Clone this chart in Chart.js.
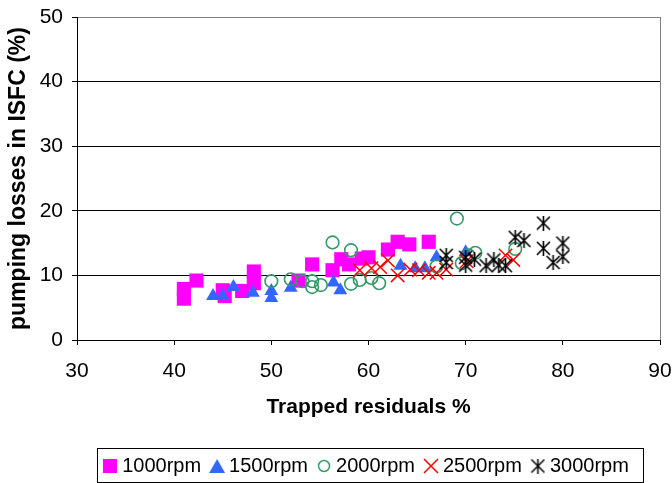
<!DOCTYPE html>
<html><head><meta charset="utf-8">
<script src="https://cdn.jsdelivr.net/npm/chart.js@4.4.0/dist/chart.umd.min.js"></script>
<style>html,body{margin:0;padding:0;background:#fff;}</style>
</head><body>
<canvas id="c" width="672" height="483"></canvas>
<script>
// ---- data ----
const seriesLabels = ['1000rpm', '1500rpm', '2000rpm', '2500rpm', '3000rpm'];
const xAxisTitle = 'Trapped residuals %';
const yAxisTitle = 'pumping losses in ISFC (%)';
const xMin = 30, xMax = 90, xStep = 10;
const yMin = 0, yMax = 50, yStep = 10;

const rpm1000 = [[41,7.9],[41,6.4],[42.3,9.2],[45,7.7],[45.2,6.8],[47,7.6],[48.2,10.6],[48.2,8.8],[52.8,9.2],[54.2,11.7],[56.3,10.8],[57.2,12.5],[58,11.7],[59.3,12.6],[60,12.8],[62,14],[63,15.2],[64.2,14.8],[66.2,15.2]];
const rpm1500 = [[44,6.8],[45,6.8],[46.1,8.2],[48.1,7.3],[50,7.6],[50,6.5],[52,8.1],[56.4,8.9],[57.1,7.7],[63.3,11.5],[64.8,11.1],[65.8,11.1],[67,12.8],[70,13.6]];
const rpm2000 = [[50,9.1],[52,9.4],[53.2,9.1],[54.2,9.1],[54.2,8.2],[55.1,8.5],[56.3,15.1],[58.2,13.9],[58.2,8.7],[59.1,9.3],[60.3,9.6],[61.1,8.8],[67,11.4],[69.1,18.8],[69.6,11.9],[70.3,13.1],[71,13.5],[75.1,14.1]];
const rpm2500 = [[59.1,10.8],[60.3,11.1],[61.2,11.3],[62,12.3],[63,10],[64.3,10.9],[65.2,10.8],[66.2,10.4],[67,10.4],[68,10.9],[70.1,12.2],[74.1,13.1],[74.9,12.4]];
const rpm3000 = [[68,13.1],[68,12],[70,12.8],[70,11.6],[70.9,12.5],[72.1,11.5],[72.9,12.4],[73.4,11.6],[74.1,11.5],[75.1,15.9],[76,15.4],[78,18.1],[78,14.2],[79,12],[80,15],[80,12.9]];

// ---- marker images ----
function mk(w, h, fn) { const c = document.createElement('canvas'); c.width = w; c.height = h; fn(c.getContext('2d'), w, h); return c; }
function asterisk(s, color, lw) {
  return mk(s, s, (g, w, h) => {
    g.strokeStyle = color; g.lineWidth = lw; g.beginPath();
    g.moveTo(1, 1); g.lineTo(w - 1, h - 1);
    g.moveTo(w - 1, 1); g.lineTo(1, h - 1);
    g.moveTo(w / 2, 0); g.lineTo(w / 2, h);
    g.stroke();
  });
}
const plotAsterisk = asterisk(15, '#000', 1.6);
const legendMarkers = [
  mk(14, 14, (g) => { g.fillStyle = '#FF00FF'; g.fillRect(0, 0, 14, 14); }),
  mk(16, 14, (g) => { g.fillStyle = '#3366FF'; g.beginPath(); g.moveTo(8, 0); g.lineTo(16, 14); g.lineTo(0, 14); g.closePath(); g.fill(); }),
  mk(14, 14, (g) => { g.strokeStyle = '#339966'; g.lineWidth = 1.5; g.beginPath(); g.arc(7, 7, 5.5, 0, Math.PI * 2); g.stroke(); }),
  mk(16, 16, (g) => { g.strokeStyle = '#FF0000'; g.lineWidth = 1.5; g.beginPath(); g.moveTo(1, 1); g.lineTo(15, 15); g.moveTo(15, 1); g.lineTo(1, 15); g.stroke(); }),
  asterisk(15, '#000', 1.5)
];

const toXY = (arr) => arr.map(p => ({x: p[0], y: p[1]}));

const legendBox = {
  id: 'legendBox',
  afterDraw(chart) {
    const hb = chart.legend && chart.legend.legendHitBoxes;
    if (!hb || !hb.length) return;
    const ctx = chart.ctx;
    const first = hb[0], last = hb[hb.length - 1];
    const l = Math.round(first.left - 11), r = Math.round(last.left + last.width + 14);
    const t = Math.round(first.top - 8), b = Math.round(first.top + first.height + 6);
    ctx.save(); ctx.strokeStyle = '#000'; ctx.lineWidth = 1;
    ctx.strokeRect(l + 0.5, t + 0.5, r - l, b - t);
    ctx.restore();
  }
};

Chart.defaults.font.family = "'Liberation Sans', Arial, sans-serif";
Chart.defaults.color = '#000';

new Chart(document.getElementById('c'), {
  type: 'scatter',
  data: {
    datasets: [
      {label: seriesLabels[0], data: toXY(rpm1000), pointStyle: 'rect', pointRadius: 10, backgroundColor: '#FF00FF', borderColor: '#FF00FF', borderWidth: 0, order: 5},
      {label: seriesLabels[1], data: toXY(rpm1500), pointStyle: 'triangle', pointRadius: 8, backgroundColor: '#3366FF', borderColor: '#3366FF', borderWidth: 0, order: 4},
      {label: seriesLabels[2], data: toXY(rpm2000), pointStyle: 'circle', pointRadius: 6.3, backgroundColor: 'rgba(0,0,0,0)', borderColor: '#339966', borderWidth: 1.6, order: 3},
      {label: seriesLabels[3], data: toXY(rpm2500), pointStyle: 'crossRot', pointRadius: 9.5, backgroundColor: '#FF0000', borderColor: '#FF0000', borderWidth: 1.5, order: 2},
      {label: seriesLabels[4], data: toXY(rpm3000), pointStyle: plotAsterisk, pointRadius: 7, backgroundColor: '#000', borderColor: '#000', borderWidth: 1.5, order: 1}
    ]
  },
  options: {
    responsive: false,
    animation: false,
    events: [],
    layout: {padding: {left: 0, right: 12, top: 17, bottom: 0}},
    plugins: {
      tooltip: {enabled: false},
      legend: {
        position: 'bottom',
        fullSize: false,
        maxHeight: 41,
        labels: {
          usePointStyle: true,
          boxWidth: 4,
          boxHeight: 14,
          padding: 14,
          color: '#000',
          font: {size: 20},
          generateLabels: (chart) => chart.data.datasets.map((ds, i) => ({
            text: ds.label,
            pointStyle: legendMarkers[i],
            fillStyle: ds.backgroundColor,
            strokeStyle: ds.borderColor,
            lineWidth: 0,
            hidden: false,
            datasetIndex: i,
            fontColor: '#000'
          }))
        }
      }
    },
    scales: {
      x: {
        type: 'linear',
        min: xMin, max: xMax,
        afterFit: (s) => { s.height = 102; s.paddingLeft = 0; s.paddingRight = 0; },
        ticks: {stepSize: xStep, color: '#000', font: {size: 21}, padding: 14, maxRotation: 0},
        grid: {
          drawOnChartArea: true,
          color: (c) => (c.tick && c.tick.value === xMax) ? '#808080' : 'rgba(0,0,0,0)',
          tickColor: '#000', tickLength: 5, lineWidth: 1
        },
        border: {display: true, color: '#000', width: 1},
        title: {display: true, text: xAxisTitle, color: '#000', font: {size: 21, weight: 'bold'}, padding: {top: 0, bottom: 22}}
      },
      y: {
        type: 'linear',
        min: yMin, max: yMax,
        afterFit: (s) => { s.width = 77; s.paddingTop = 0; s.paddingBottom = 0; },
        ticks: {stepSize: yStep, color: '#000', font: {size: 21}, padding: 9},
        grid: {
          color: (c) => {
            if (!c.tick) return '#000';
            if (c.tick.value === yMax) return '#808080';
            if (c.tick.value === yMin) return 'rgba(0,0,0,0)';
            return '#000';
          },
          tickColor: '#000', tickLength: 5, lineWidth: 1
        },
        border: {display: true, color: '#000', width: 1},
        title: {display: true, text: yAxisTitle, color: '#000', font: {size: 23, weight: 'bold'}, padding: {top: 5, bottom: 0}}
      }
    }
  },
  plugins: [legendBox]
});
</script>
</body></html>
